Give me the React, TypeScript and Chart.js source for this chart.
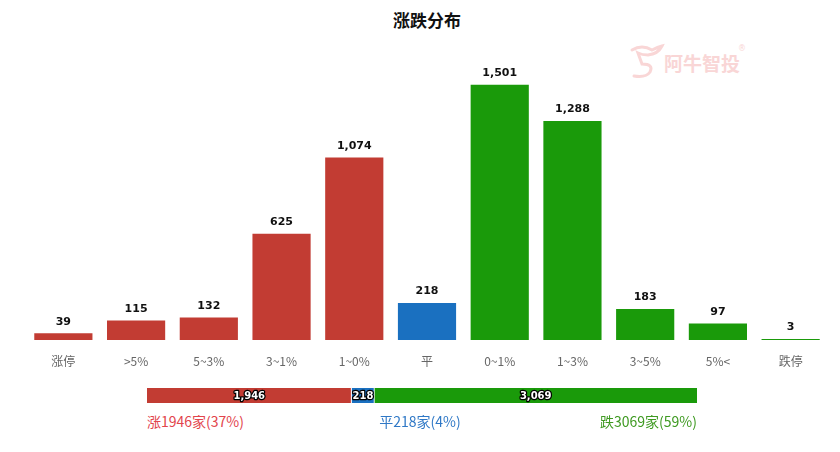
import React, { useEffect, useRef } from "react";
import { Chart, registerables } from "chart.js";

Chart.register(...registerables);

const categories = ["涨停", ">5%", "5~3%", "3~1%", "1~0%", "平", "0~1%", "1~3%", "3~5%", "5%<", "跌停"];
const counts = [39, 115, 132, 625, 1074, 218, 1501, 1288, 183, 97, 3];
const barColors = ["#c23c33", "#c23c33", "#c23c33", "#c23c33", "#c23c33", "#1a70c0", "#1a9a0a", "#1a9a0a", "#1a9a0a", "#1a9a0a", "#1a9a0a"];

const summaryLabels = ["涨", "平", "跌"];
const summaryValues = [1946, 218, 3069];
const summaryColors = ["#c23c33", "#1a70c0", "#1a9a0a"];
const summaryTextColors = ["#e2444c", "#2f78c6", "#3f9a22"];
const summaryPercents = ["37%", "4%", "59%"];

const fmt = (v: number) => v.toLocaleString("en-US");

const valueLabelPlugin = {
  id: "valueLabels",
  afterDatasetsDraw(chart: any) {
    const ctx = chart.ctx;
    const meta = chart.getDatasetMeta(0);
    ctx.save();
    ctx.font = "bold 11px 'DejaVu Sans'";
    ctx.fillStyle = "#111";
    ctx.textAlign = "center";
    ctx.textBaseline = "bottom";
    meta.data.forEach((bar: any, i: number) => {
      const v = chart.data.datasets[0].data[i];
      ctx.fillText(fmt(v), bar.x, bar.y - 6);
    });
    ctx.restore();
  },
};

const stackLabelPlugin = {
  id: "stackLabels",
  afterDatasetsDraw(chart: any) {
    const ctx = chart.ctx;
    ctx.save();
    ctx.font = "bold 10px 'DejaVu Sans'";
    ctx.textAlign = "center";
    ctx.textBaseline = "middle";
    ctx.lineJoin = "round";
    chart.data.datasets.forEach((ds: any, di: number) => {
      const bar: any = chart.getDatasetMeta(di).data[0];
      const x = (bar.x + bar.base) / 2;
      const y = bar.y + 0.5;
      const t = fmt(ds.data[0]);
      ctx.strokeStyle = "#000";
      ctx.lineWidth = 2.5;
      ctx.strokeText(t, x, y);
      ctx.fillStyle = "#fff";
      ctx.fillText(t, x, y);
    });
    ctx.restore();
  },
};

export default function App() {
  const mainRef = useRef<HTMLCanvasElement>(null);
  const sumRef = useRef<HTMLCanvasElement>(null);

  useEffect(() => {
    document.body.style.margin = "0";
    const main = new Chart(mainRef.current!, {
      type: "bar",
      data: {
        labels: categories,
        datasets: [
          {
            data: counts,
            backgroundColor: barColors,
            categoryPercentage: 1,
            barPercentage: 0.8,
            minBarLength: 1,
          },
        ],
      },
      options: {
        animation: false,
        responsive: false,
        layout: { padding: { top: 68, bottom: 10, left: 27, right: 13 } },
        plugins: { legend: { display: false }, tooltip: { enabled: false }, title: { display: false } },
        scales: {
          x: {
            grid: { display: false },
            border: { display: false },
            ticks: { color: "#666", font: { size: 12, family: "'Noto Sans CJK SC'" }, padding: 6 },
            afterFit: (s: any) => {
              s.height = 40;
            },
          },
          y: { display: false, min: 0, max: 1600 },
        },
      },
      plugins: [valueLabelPlugin],
    });

    const sum = new Chart(sumRef.current!, {
      type: "bar",
      data: {
        labels: [""],
        datasets: summaryValues.map((v, i) => ({
          data: [v],
          backgroundColor: summaryColors[i],
          borderColor: "#ffffff",
          borderWidth: i < 2 ? { right: 1, left: 0, top: 0, bottom: 0 } : 0,
          borderSkipped: false,
          categoryPercentage: 1,
          barPercentage: 1,
        })),
      },
      options: {
        indexAxis: "y",
        animation: false,
        responsive: false,
        layout: { padding: 0 },
        plugins: { legend: { display: false }, tooltip: { enabled: false } },
        scales: {
          x: { display: false, stacked: true, min: 0, max: summaryValues.reduce((a, b) => a + b, 0) },
          y: { display: false, stacked: true },
        },
      },
      plugins: [stackLabelPlugin],
    });

    return () => {
      main.destroy();
      sum.destroy();
    };
  }, []);

  const textStyle = (i: number): React.CSSProperties => ({
    position: "absolute",
    top: 411,
    fontSize: 14,
    fontFamily: "'Noto Sans CJK SC'",
    color: summaryTextColors[i],
    whiteSpace: "nowrap",
    lineHeight: "20px",
  });

  return (
    <div style={{ position: "relative", width: 840, height: 452, background: "#fff", overflow: "hidden" }}>
      <div
        style={{
          position: "absolute",
          top: 8,
          left: 0,
          width: 854,
          textAlign: "center",
          fontFamily: "'Noto Sans CJK SC'",
          fontWeight: 700,
          fontSize: 17,
          color: "#111",
          lineHeight: "24px",
        }}
      >
        涨跌分布
      </div>
      <div style={{ position: "absolute", left: 628, top: 42, width: 130, height: 40 }}>
        <svg width="40" height="40" style={{ position: "absolute", left: 0, top: 0 }}>
          <path
            d="M4 8 Q14 2 24 8 Q30 5 34 4 Q30 12 20 13 Q14 13 10 11 L14 22 Q26 22 22 30 Q18 36 6 34"
            fill="none"
            stroke="#f9d6d6"
            strokeWidth="3"
            strokeLinecap="round"
          />
        </svg>
        <div
          style={{
            position: "absolute",
            left: 36,
            top: 9,
            fontFamily: "'Noto Sans CJK SC'",
            fontSize: 19,
            fontWeight: 700,
            color: "#f9d6d6",
            lineHeight: "24px",
            letterSpacing: 0,
          }}
        >
          阿牛智投
        </div>
        <div style={{ position: "absolute", left: 110, top: 2, fontSize: 8, color: "#f9d6d6", fontFamily: "'DejaVu Sans'" }}>®</div>
      </div>
      <canvas ref={mainRef} width={840} height={390} style={{ position: "absolute", left: 0, top: 0 }} />
      <canvas ref={sumRef} width={550} height={15} style={{ position: "absolute", left: 147, top: 388 }} />
      <div style={{ ...textStyle(0), left: 147 }}>{summaryLabels[0]}{summaryValues[0]}家({summaryPercents[0]})</div>
      <div style={{ ...textStyle(1), left: 320, width: 200, textAlign: "center" }}>
        {summaryLabels[1]}{summaryValues[1]}家({summaryPercents[1]})
      </div>
      <div style={{ ...textStyle(2), right: 840 - 697, textAlign: "right" }}>
        {summaryLabels[2]}{summaryValues[2]}家({summaryPercents[2]})
      </div>
    </div>
  );
}
